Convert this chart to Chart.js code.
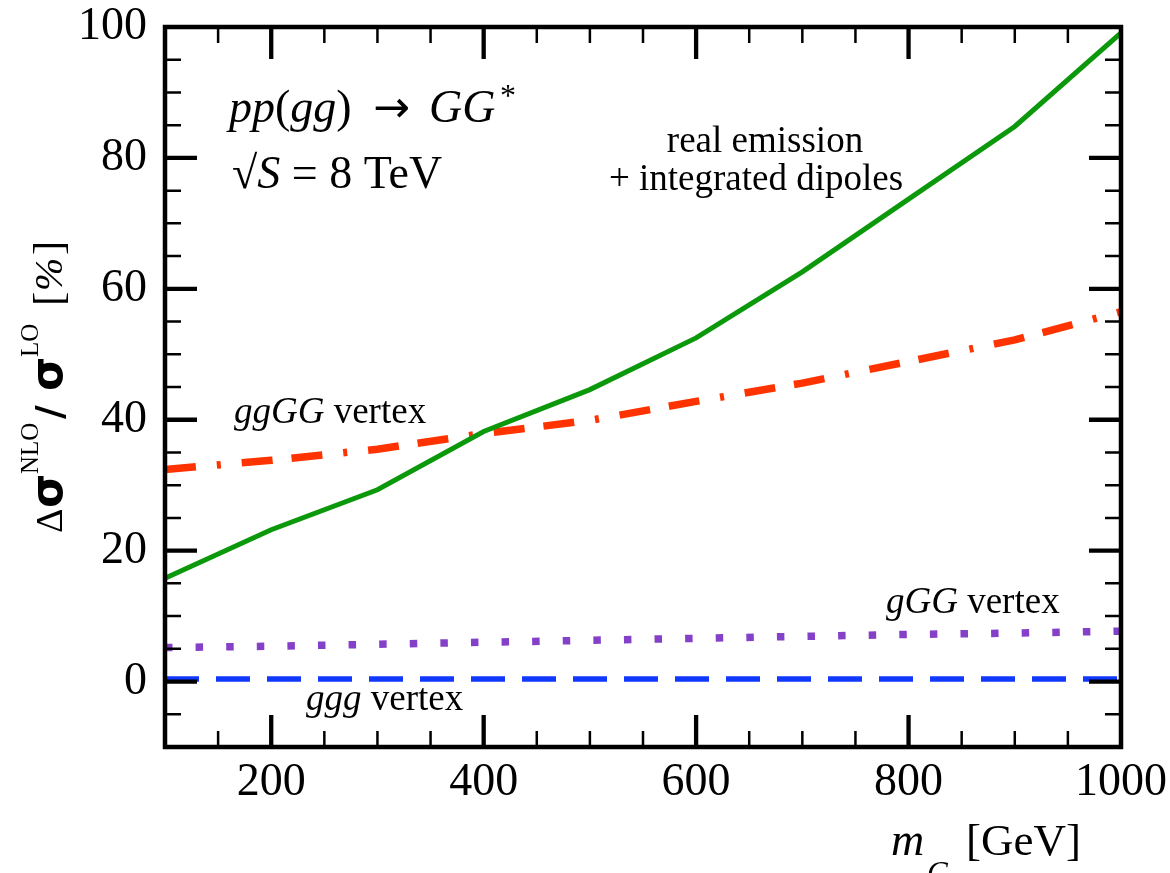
<!DOCTYPE html>
<html>
<head>
<meta charset="utf-8">
<script src="https://cdn.jsdelivr.net/npm/chart.js@4.4.0/dist/chart.umd.min.js"></script>
<style>
  html, body { margin: 0; padding: 0; background: #fff; }
  #wrap { width: 1170px; height: 873px; }
</style>
</head>
<body>
<div id="wrap"><canvas id="chart" width="1170" height="873"></canvas></div>
<script>
// ── Data ──────────────────────────────────────────────────────────────────────

const massPoints   = [100, 200, 300, 400, 500, 600, 700, 800, 900, 1000];
const realEmission = [15.8, 23.2, 29.3, 38.2, 44.6, 52.5, 62.6, 73.7, 84.8, 99.1];
const ggGGVertex   = [32.4, 33.8, 35.5, 37.9, 39.9, 42.8, 45.6, 48.9, 52.2, 56.5];
const gGGVertex    = [5.2, 5.4, 5.7, 6.0, 6.3, 6.6, 6.9, 7.2, 7.4, 7.7];
const gggVertex    = [0.4, 0.4, 0.4, 0.4, 0.4, 0.4, 0.4, 0.4, 0.4, 0.4];

const xTicks = [200, 400, 600, 800, 1000];
const yTicks = [0, 20, 40, 60, 80, 100];
const xMinorStep = 50;
const yMinorStep = 5;

// ── Helpers ──────────────────────────────────────────────────────────────────

const SERIF = '"Liberation Serif", "Times New Roman", serif';
const SANS  = '"DejaVu Sans", sans-serif';

function points(values) {
    return massPoints.map((m, i) => ({ x: m, y: values[i] }));
}

function font(size, italic, family) {
    return `${italic ? 'italic ' : ''}${size}px ${family || SERIF}`;
}

// draws a row of text runs starting at x, returns total width
function drawRuns(ctx, x, y, runs) {
    let cx = x;
    for (const r of runs) {
        if (r.at !== undefined) cx = r.at;
        ctx.font = font(r.size, r.i, r.family);
        ctx.fillText(r.t, cx, y + (r.dy || 0));
        cx += ctx.measureText(r.t).width + (r.gap || 0);
    }
    return cx - x;
}

// ── Frame, inward ticks and labels ────────────────────────────────────────────

const framePlugin = {
    id: 'frame',
    afterDatasetsDraw(chart) {
        const { ctx, chartArea: a, scales: { x, y } } = chart;
        ctx.save();
        ctx.strokeStyle = '#000';
        ctx.lineCap = 'butt';

        // minor ticks
        ctx.lineWidth = 2.5;
        ctx.beginPath();
        for (let v = x.min + xMinorStep; v < x.max; v += xMinorStep) {
            if (xTicks.includes(v)) continue;
            const px = x.getPixelForValue(v);
            ctx.moveTo(px, a.bottom); ctx.lineTo(px, a.bottom - 16);
            ctx.moveTo(px, a.top);    ctx.lineTo(px, a.top + 16);
        }
        for (let v = y.min + yMinorStep; v < y.max; v += yMinorStep) {
            if (yTicks.includes(v)) continue;
            const py = y.getPixelForValue(v);
            ctx.moveTo(a.left, py);  ctx.lineTo(a.left + 16, py);
            ctx.moveTo(a.right, py); ctx.lineTo(a.right - 16, py);
        }
        ctx.stroke();

        // major ticks
        ctx.lineWidth = 4.3;
        ctx.beginPath();
        xTicks.forEach(v => {
            if (v >= x.max) return;
            const px = x.getPixelForValue(v);
            ctx.moveTo(px, a.bottom); ctx.lineTo(px, a.bottom - 32);
            ctx.moveTo(px, a.top);    ctx.lineTo(px, a.top + 32);
        });
        yTicks.forEach(v => {
            if (v >= y.max) return;
            const py = y.getPixelForValue(v);
            ctx.moveTo(a.left, py);  ctx.lineTo(a.left + 32, py);
            ctx.moveTo(a.right, py); ctx.lineTo(a.right - 32, py);
        });
        ctx.stroke();

        // frame
        ctx.lineWidth = 4.5;
        ctx.strokeRect(a.left, a.top, a.right - a.left, a.bottom - a.top);

        // annotations
        ctx.fillStyle = '#000';
        ctx.textBaseline = 'alphabetic';
        ctx.textAlign = 'left';

        drawRuns(ctx, 229, 122, [
            { t: 'pp', size: 46, i: true },
            { t: '(', size: 46 },
            { t: 'gg', size: 46, i: true },
            { t: ')', size: 46 },
            { t: '\u2192', size: 44, family: SANS, at: 373 },
            { t: 'GG', size: 46, i: true, at: 429 },
            { t: '*', size: 32, dy: -16, at: 500 }
        ]);
        drawRuns(ctx, 232, 188, [
            { t: '\u221A', size: 46 },
            { t: 'S', size: 46, i: true },
            { t: ' = 8 TeV', size: 46 }
        ]);

        ctx.textAlign = 'center';
        ctx.font = font(37);
        ctx.fillText('real emission', 765, 152);
        ctx.fillText('+ integrated dipoles', 756, 190);
        ctx.textAlign = 'left';

        drawRuns(ctx, 234, 423, [
            { t: 'ggGG', size: 37, i: true },
            { t: ' vertex', size: 37 }
        ]);
        drawRuns(ctx, 886, 613, [
            { t: 'gGG', size: 37, i: true },
            { t: ' vertex', size: 37 }
        ]);
        drawRuns(ctx, 306, 710, [
            { t: 'ggg', size: 37, i: true },
            { t: ' vertex', size: 37 }
        ]);

        // x-axis title
        drawRuns(ctx, 891, 855, [
            { t: 'm', size: 46, i: true }
        ]);
        ctx.font = font(31, true);
        ctx.fillText('G', 927, 883);
        drawRuns(ctx, 966, 855, [
            { t: '[GeV]', size: 45 }
        ]);

        // y-axis title (rotated)
        ctx.save();
        ctx.translate(62, 533);
        ctx.rotate(-Math.PI / 2);
        const pieces = [
            { u: 0,   t: '\u0394', f: font(38) },
            { u: 25,  t: '\u03C3', f: `bold 44px ${SANS}` },
            { u: 59,  t: 'NLO',    f: font(25), dy: -24 },
            { u: 114, t: '/',      f: `bold 38px ${SANS}` },
            { u: 142, t: '\u03C3', f: `bold 44px ${SANS}` },
            { u: 176, t: 'LO',     f: font(25), dy: -24 },
            { u: 227, t: '[',      f: font(43) },
            { u: 242, t: '%',      f: font(40, true) },
            { u: 278, t: ']',      f: font(43) }
        ];
        pieces.forEach(p => {
            ctx.font = p.f;
            ctx.fillText(p.t, p.u, p.dy || 0);
        });
        ctx.restore();

        ctx.restore();
    }
};

// ── Chart ────────────────────────────────────────────────────────────────────

const ctx = document.getElementById('chart').getContext('2d');

new Chart(ctx, {
    type: 'line',
    data: {
        datasets: [
            {
                label: 'real emission + integrated dipoles',
                data: points(realEmission),
                borderColor: '#0b990b',
                borderWidth: 5,
                pointRadius: 0,
                tension: 0
            },
            {
                label: 'ggGG vertex',
                data: points(ggGGVertex),
                borderColor: '#ff3300',
                borderWidth: 7.5,
                borderDash: [31, 19, 31, 21, 4, 21],
                borderDashOffset: 50,
                borderCapStyle: 'butt',
                pointRadius: 0,
                tension: 0
            },
            {
                label: 'gGG vertex',
                data: points(gGGVertex),
                borderColor: '#8440c8',
                borderWidth: 7.5,
                borderDash: [7.5, 23.1],
                borderCapStyle: 'butt',
                pointRadius: 0,
                tension: 0
            },
            {
                label: 'ggg vertex',
                data: points(gggVertex),
                borderColor: '#1038ff',
                borderWidth: 5.5,
                borderDash: [34, 17],
                borderCapStyle: 'butt',
                pointRadius: 0,
                tension: 0
            }
        ]
    },
    options: {
        responsive: false,
        animation: false,
        devicePixelRatio: 1,
        layout: { padding: { left: 0, right: 49, top: 27, bottom: 0 } },
        plugins: {
            legend: { display: false },
            tooltip: { enabled: false }
        },
        scales: {
            x: {
                type: 'linear',
                min: 100,
                max: 1000,
                afterBuildTicks: s => { s.ticks = xTicks.map(v => ({ value: v })); },
                afterFit: s => {
                    s.height = 873 - 747;
                    s.paddingLeft = 0;
                    s.paddingRight = 0;
                },
                grid: { display: false, drawTicks: false },
                border: { display: false },
                ticks: {
                    color: '#000',
                    font: { family: SERIF, size: 46 },
                    padding: 8,
                    maxRotation: 0,
                    autoSkip: false,
                    callback: v => String(v)
                }
            },
            y: {
                type: 'linear',
                min: -10,
                max: 100,
                afterBuildTicks: s => { s.ticks = yTicks.map(v => ({ value: v })); },
                afterFit: s => {
                    s.width = 165;
                    s.paddingTop = 0;
                    s.paddingBottom = 0;
                },
                grid: { display: false, drawTicks: false },
                border: { display: false },
                ticks: {
                    color: '#000',
                    font: { family: SERIF, size: 46 },
                    padding: 18,
                    callback: v => String(v)
                }
            }
        }
    },
    plugins: [framePlugin]
});
</script>
</body>
</html>
